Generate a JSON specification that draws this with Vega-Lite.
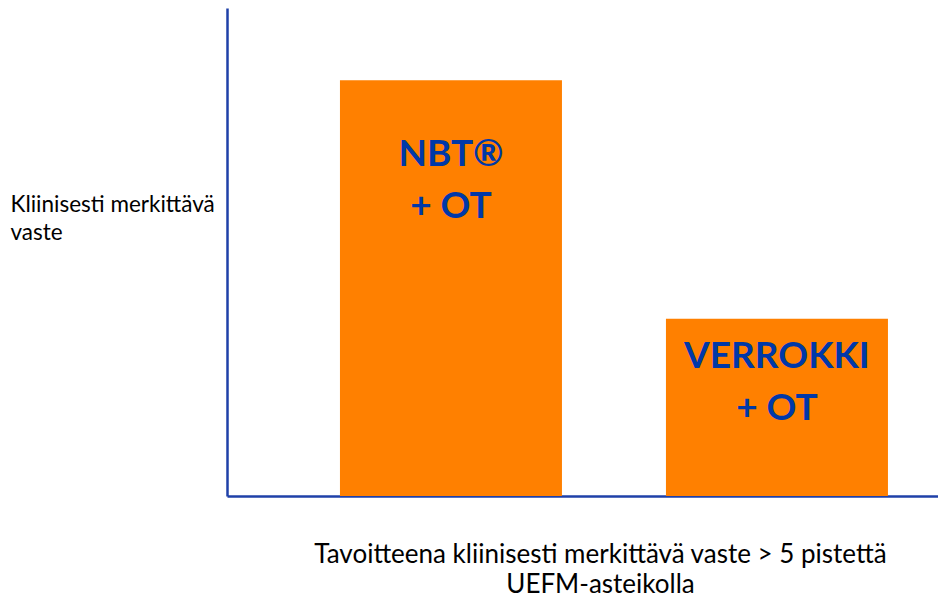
{
  "$schema": "https://vega.github.io/schema/vega-lite/v6.json",
  "width": 711,
  "height": 488,
  "autosize": {"type": "none"},
  "padding": {"left": 227, "top": 8, "right": 0, "bottom": 101},
  "background": "white",
  "config": {"view": {"stroke": null}},
  "data": {
    "values": [
      {"group": "NBT", "value": 85.2, "label": "NBT®\n+ OT"},
      {"group": "VERROKKI", "value": 36.3, "label": "VERROKKI\n+ OT"}
    ]
  },
  "encoding": {
    "x": {
      "field": "group",
      "type": "nominal",
      "sort": null,
      "scale": {"paddingInner": 0.319, "paddingOuter": 0.25, "align": 0.693},
      "axis": {
        "orient": "bottom",
        "domain": true,
        "domainColor": "#1F40A8",
        "domainWidth": 2.5,
        "ticks": false,
        "labels": false,
        "grid": false,
        "title": ["Tavoitteena kliinisesti merkittävä vaste > 5 pistettä", "UEFM-asteikolla"],
        "titleFont": "Lato",
        "titleFontSize": 26,
        "titleFontWeight": "normal",
        "titleColor": "#000000",
        "titleAlign": "center",
        "titleBaseline": "alphabetic",
        "titleX": 373,
        "titleY": 66,
        "titleLineHeight": 30
      }
    },
    "y": {
      "field": "value",
      "type": "quantitative",
      "scale": {"domain": [0, 100]},
      "axis": {
        "orient": "left",
        "domain": true,
        "domainColor": "#1F40A8",
        "domainWidth": 2.5,
        "ticks": false,
        "labels": false,
        "grid": false,
        "title": ["Kliinisesti merkittävä", "vaste"],
        "titleFont": "Lato",
        "titleFontSize": 22.5,
        "titleFontWeight": "normal",
        "titleColor": "#000000",
        "titleAngle": 0,
        "titleAlign": "left",
        "titleBaseline": "alphabetic",
        "titleX": -217,
        "titleY": 203,
        "titleLineHeight": 28
      }
    }
  },
  "layer": [
    {
      "mark": {"type": "bar", "color": "#FF8000"}
    },
    {
      "transform": [{"filter": "datum.group === 'NBT'"}],
      "mark": {"type": "text", "font": "Lato", "fontWeight": "bold", "fontSize": 37, "color": "#0038A8", "baseline": "alphabetic", "align": "center", "dy": 86, "lineHeight": 52, "lineBreak": "\n"},
      "encoding": {"text": {"field": "label"}}
    },
    {
      "transform": [{"filter": "datum.group === 'VERROKKI'"}],
      "mark": {"type": "text", "font": "Lato", "fontWeight": "bold", "fontSize": 37, "color": "#0038A8", "baseline": "alphabetic", "align": "center", "dy": 49, "lineHeight": 52, "lineBreak": "\n"},
      "encoding": {"text": {"field": "label"}}
    }
  ]
}
